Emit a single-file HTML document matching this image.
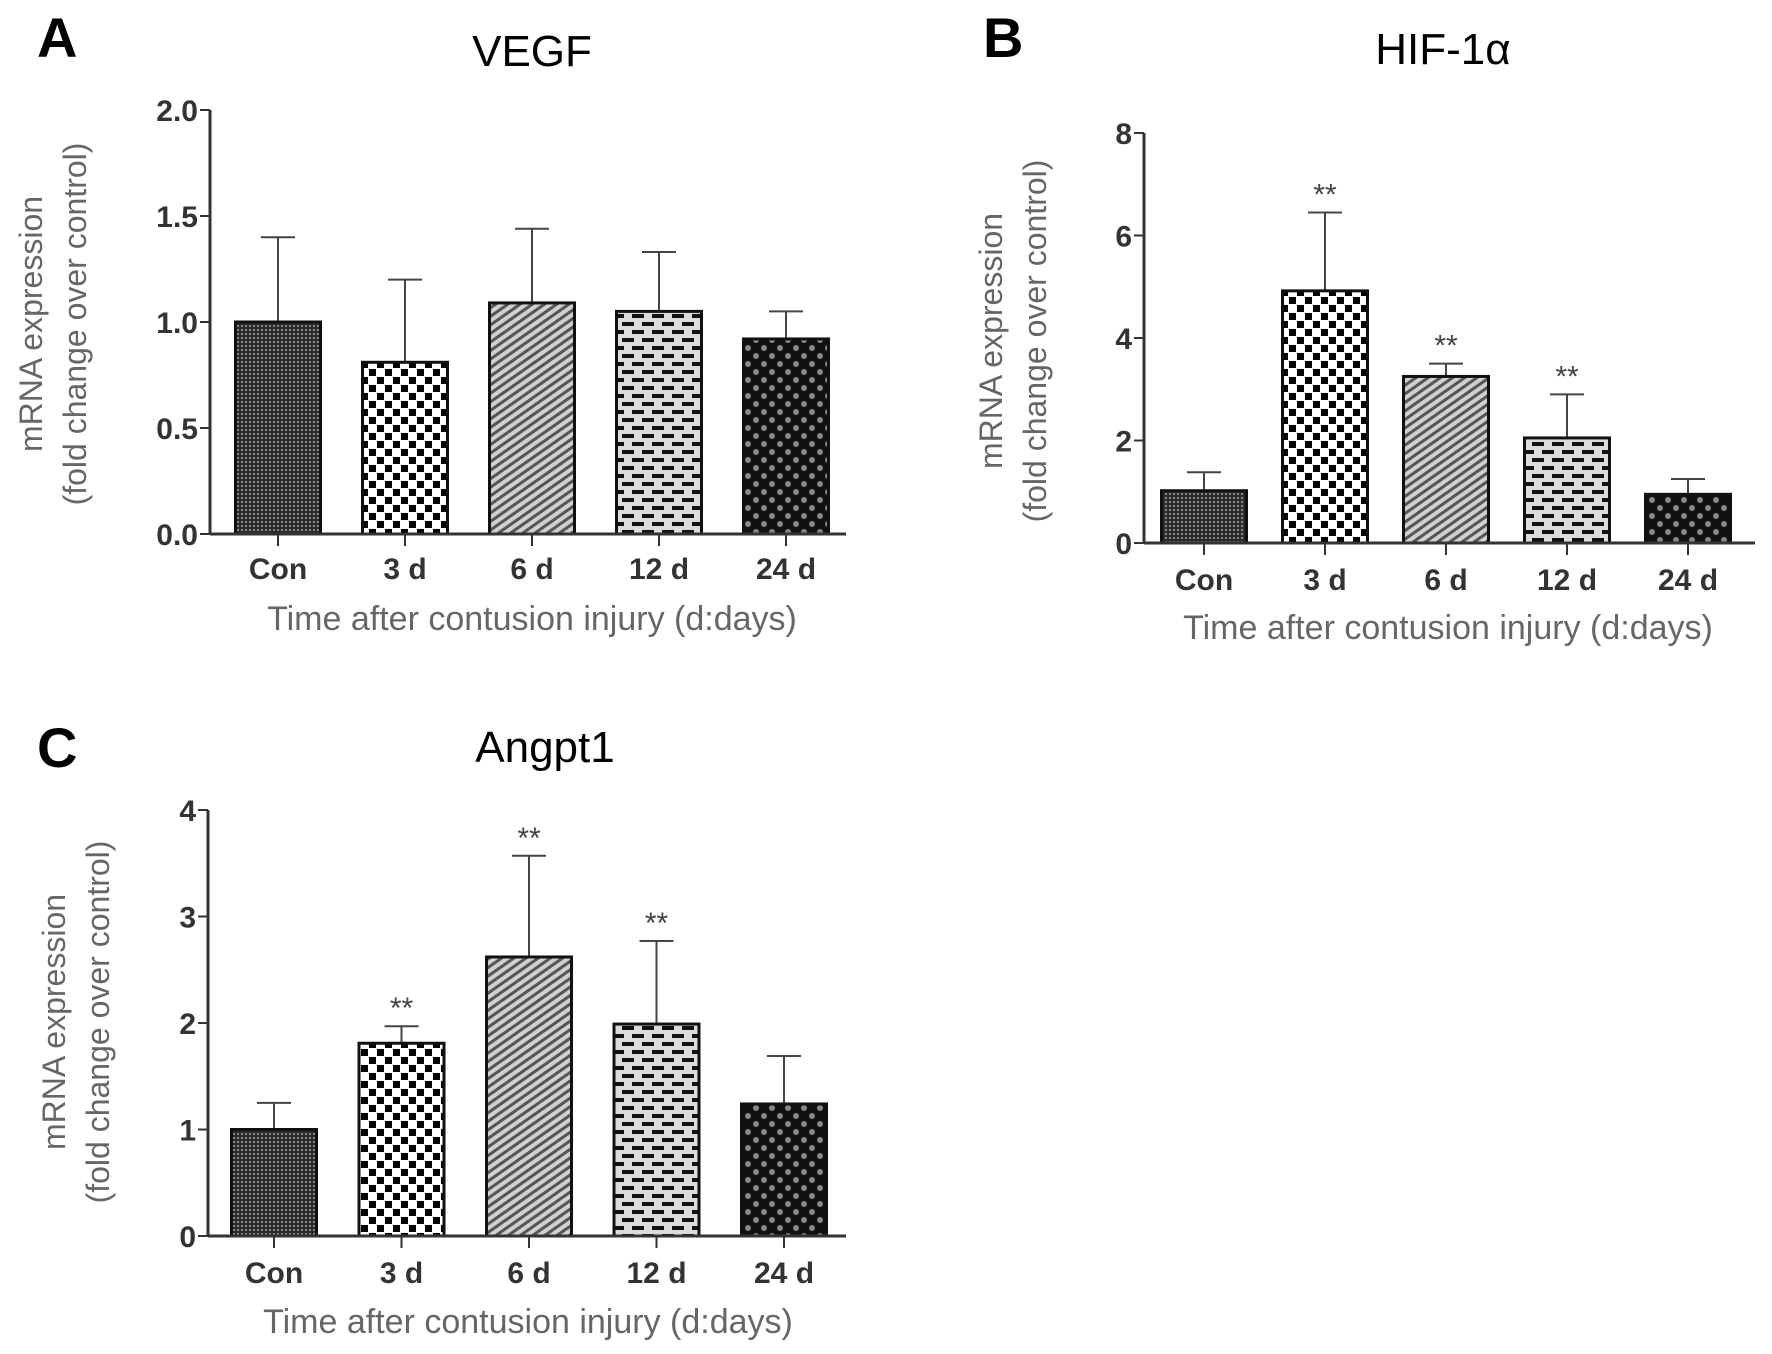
<!DOCTYPE html>
<html><head><meta charset="utf-8">
<style>
html,body{margin:0;padding:0;background:#fff;overflow:hidden;}
svg{display:block;}
text{font-family:"Liberation Sans",sans-serif;}
</style></head>
<body>
<svg id="fig" width="1772" height="1354" viewBox="0 0 1772 1354">
<defs>
  <pattern id="pCon" width="4" height="4" patternUnits="userSpaceOnUse">
    <rect width="4" height="4" fill="#2a2a2a"/><rect x="1" y="1" width="2" height="2" fill="#8a8a8a"/>
  </pattern>
  <pattern id="p3d" width="16" height="16" patternUnits="userSpaceOnUse">
    <rect width="16" height="16" fill="#fff"/><rect x="1" y="1" width="7" height="7" fill="#000"/><rect x="9" y="9" width="7" height="7" fill="#000"/>
  </pattern>
  <pattern id="p6d" width="7" height="7" patternUnits="userSpaceOnUse" patternTransform="rotate(-35)">
    <rect width="7" height="7" fill="#d0d0d0"/><rect width="7" height="3" fill="#555"/>
  </pattern>
  <pattern id="p12d" width="20" height="16" patternUnits="userSpaceOnUse">
    <rect width="20" height="16" fill="#dcdcdc"/><rect x="2" y="2" width="12" height="4" fill="#111"/><rect x="12" y="10" width="12" height="4" fill="#111"/><rect x="-8" y="10" width="12" height="4" fill="#111"/>
  </pattern>
  <pattern id="p24d" width="16" height="16" patternUnits="userSpaceOnUse">
    <rect width="16" height="16" fill="#111"/><circle cx="4" cy="4" r="3" fill="#888"/><circle cx="12" cy="12" r="3" fill="#888"/>
  </pattern>
</defs>
</svg>
<script>
const categories = ["Con","3 d","6 d","12 d","24 d"];
const vegfValues = [1.0, 0.81, 1.09, 1.05, 0.92];
const vegfErrTop = [1.40, 1.20, 1.44, 1.33, 1.05];
const vegfStars = [false,false,false,false,false];
const vegfTicks = ["0.0","0.5","1.0","1.5","2.0"];
const hifValues = [1.02, 4.92, 3.25, 2.05, 0.95];
const hifErrTop = [1.38, 6.45, 3.50, 2.90, 1.25];
const hifStars = [false,true,true,true,false];
const hifTicks = ["0","2","4","6","8"];
const angValues = [1.0, 1.81, 2.62, 1.99, 1.24];
const angErrTop = [1.25, 1.97, 3.57, 2.77, 1.69];
const angStars = [false,true,true,true,false];
const angTicks = ["0","1","2","3","4"];
const patterns = ["pCon","p3d","p6d","p12d","p24d"];

const NS="http://www.w3.org/2000/svg";
const svg=document.getElementById('fig');
function mk(tag,attrs,parent,txt){const e=document.createElementNS(NS,tag);for(const k in attrs)e.setAttribute(k,attrs[k]);if(txt!==undefined)e.textContent=txt;(parent||svg).appendChild(e);return e;}

function panel(cfg){
  const g=mk('g',{});
  
  
  const yMax=parseFloat(cfg.ticks[cfg.ticks.length-1]);
  const ys=v=>cfg.y0-(v/yMax)*(cfg.y0-cfg.yTop);
  const xs=i=>cfg.firstX+cfg.step*i;
  const bw=85;
  let t=mk('text',{x:cfg.letterX,y:cfg.letterY,'font-size':56,'font-weight':'bold',fill:'#000'},g,cfg.letter);
  
  t=mk('text',{x:cfg.titleX,y:cfg.titleY,'font-size':44,'text-anchor':'middle',fill:'#000'},g,cfg.title);
  
  categories.forEach((c,i)=>{
    const x=xs(i)-bw/2,y=ys(cfg.values[i]);
    const eb=mk('line',{x1:xs(i),x2:xs(i),y1:y,y2:ys(cfg.err[i]),stroke:'#444','stroke-width':2},g);
    
    const cap=mk('line',{x1:xs(i)-bw*0.2,x2:xs(i)+bw*0.2,y1:ys(cfg.err[i]),y2:ys(cfg.err[i]),stroke:'#444','stroke-width':2},g);
    
    const r=mk('rect',{x:x,y:y,width:bw,height:cfg.y0-y,fill:'url(#'+patterns[i]+')',stroke:'#111','stroke-width':3},g);
    
    if(cfg.stars[i]){const s=mk('text',{x:xs(i),y:ys(cfg.err[i])-8,'font-size':30,'text-anchor':'middle',fill:'#444'},g,'**');
      }
    const tk=mk('line',{x1:xs(i),x2:xs(i),y1:cfg.y0,y2:cfg.y0+12,stroke:'#333','stroke-width':2},g);
    
    const lb=mk('text',{x:xs(i),y:cfg.catY,'font-size':30,'font-weight':'bold','text-anchor':'middle',fill:'#333'},g,c);
    
  });
  const ya=mk('line',{x1:cfg.ax,x2:cfg.ax,y1:cfg.yTop,y2:cfg.y0,stroke:'#333','stroke-width':3},g);
  
  const xa=mk('line',{x1:cfg.ax,x2:cfg.xEnd,y1:cfg.y0,y2:cfg.y0,stroke:'#333','stroke-width':3},g);
  
  cfg.ticks.forEach(tl=>{
    const y=ys(parseFloat(tl));
    const tk=mk('line',{x1:cfg.ax-10,x2:cfg.ax,y1:y,y2:y,stroke:'#333','stroke-width':2},g);
    
    const lb=mk('text',{x:cfg.ax-12,y:y+11,'font-size':30,'font-weight':'bold','text-anchor':'end',fill:'#333'},g,tl);
    
  });
  const xt=mk('text',{x:cfg.xTitleX,y:cfg.xTitleY,'font-size':34,'text-anchor':'middle',fill:'#666'},g,'Time after contusion injury (d:days)');
  
  const yt=mk('text',{transform:'translate('+cfg.ytX+','+cfg.ytY+') rotate(-90)','font-size':32,'text-anchor':'middle',fill:'#666'},g);
  
  mk('tspan',{x:0,y:-10},yt,'mRNA expression');
  mk('tspan',{x:0,y:34},yt,'(fold change over control)');
}

panel({name:'panel-a-vegf',letter:'A',letterX:37,letterY:57,title:'VEGF',titleX:532,titleY:66,
  values:vegfValues,err:vegfErrTop,stars:vegfStars,ticks:vegfTicks,
  ax:210,yTop:110,y0:534,xEnd:846,firstX:278,step:127,catY:579,xTitleX:532,xTitleY:630,ytX:52,ytY:324});
panel({name:'panel-b-hif',letter:'B',letterX:983,letterY:57,title:'HIF-1α',titleX:1443,titleY:64,
  values:hifValues,err:hifErrTop,stars:hifStars,ticks:hifTicks,
  ax:1144,yTop:133,y0:543,xEnd:1755,firstX:1204,step:121,catY:590,xTitleX:1448,xTitleY:639,ytX:1012,ytY:341});
panel({name:'panel-c-angpt1',letter:'C',letterX:37,letterY:767,title:'Angpt1',titleX:545,titleY:762,
  values:angValues,err:angErrTop,stars:angStars,ticks:angTicks,
  ax:208,yTop:810,y0:1236,xEnd:846,firstX:274,step:127.5,catY:1283,xTitleX:528,xTitleY:1333,ytX:75,ytY:1022});
</script>
</body></html>
